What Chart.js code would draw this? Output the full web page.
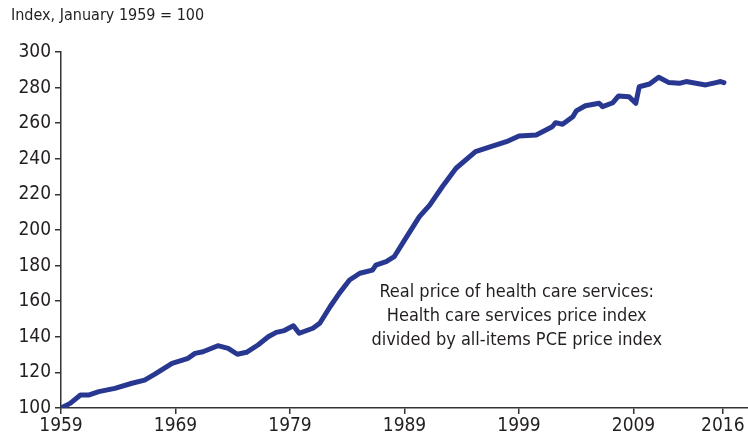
<!DOCTYPE html>
<html>
<head>
<meta charset="utf-8">
<script src="https://cdn.jsdelivr.net/npm/chart.js@4/dist/chart.umd.min.js"></script>
<style>
  html, body { margin: 0; padding: 0; background: #fff; }
  #wrap { position: relative; width: 748px; height: 441px; }
</style>
</head>
<body>
<div id="wrap"><canvas id="myChart" width="748" height="441"></canvas></div>
<script>
// data
var years = [1959.0, 1959.8, 1960.7, 1961.4, 1962.3, 1963.7, 1965.2, 1966.3, 1967.2, 1968.7,
  1970.1, 1970.7, 1971.4, 1972.7, 1973.6, 1974.4, 1975.2, 1976.2, 1977.1, 1977.8,
  1978.5, 1979.3, 1979.8, 1981.0, 1981.6, 1982.5, 1983.3, 1984.2, 1985.1, 1986.2,
  1986.5, 1987.4, 1988.1, 1989.1, 1990.3, 1991.2, 1992.3, 1993.5, 1995.2, 1996.4,
  1997.9, 1999.0, 2000.5, 2001.9, 2002.2, 2002.8, 2003.7, 2004.0, 2004.8, 2006.0,
  2006.3, 2007.2, 2007.7, 2008.6, 2009.2, 2009.5, 2010.4, 2011.2, 2012.1, 2013.0,
  2013.6, 2015.3, 2016.2, 2016.6, 2016.9];
var realPrice = [100, 102.6, 107.3, 107.3, 109.2, 111, 113.9, 115.7, 119, 125.1,
  127.9, 130.7, 131.6, 135, 133.5, 130.2, 131.3, 135.4, 140, 142.5,
  143.5, 146.2, 142, 144.8, 147.6, 156.9, 164.4, 171.9, 175.7, 177.5,
  180.3, 182.2, 185, 195.3, 207.5, 214, 224.3, 234.7, 244, 246.5,
  249.6, 252.8, 253.4, 258, 260.3, 259.4, 263.6, 266.9, 269.8, 271.2,
  269.3, 271.5, 275.3, 274.9, 271.2, 280.5, 282, 285.8, 282.8, 282.4,
  283.4, 281.5, 282.8, 283.4, 282.8];
var xTickValues = [1959, 1969, 1979, 1989, 1999, 2009, 2016.8];
var xTickLabels = ['1959', '1969', '1979', '1989', '1999', '2009', '2016'];
var yTickValues = [100, 120, 140, 160, 180, 200, 220, 240, 260, 280, 300];
var unitLabel = 'Index, January 1959 = 100';
var noteLines = ['Real price of health care services:', 'Health care services price index', 'divided by all-items PCE price index'];

var FONT = "'Liberation Sans Narrow', 'DejaVu Sans Condensed', 'Arial Narrow', sans-serif";
var axisColor = '#333333';
var textColor = '#231f20';

var points = years.map(function (y, i) { return { x: y, y: realPrice[i] }; });

var textPlugin = {
  id: 'extraText',
  afterDraw: function (chart) {
    var c = chart.ctx;
    c.save();
    c.fillStyle = textColor;
    c.font = '16px ' + FONT;
    c.textAlign = 'left';
    c.textBaseline = 'middle';
    c.fillText(unitLabel, 11, 16);
    c.font = '18px ' + FONT;
    c.textAlign = 'center';
    var cx = chart.scales.x.getPixelForValue(1998.8);
    var y0 = chart.scales.y.getPixelForValue(165);
    for (var i = 0; i < noteLines.length; i++) {
      c.fillText(noteLines[i], cx, y0 + i * 24);
    }
    c.restore();
  }
};

var ctx = document.getElementById('myChart').getContext('2d');
var chart = new Chart(ctx, {
  type: 'line',
  data: {
    datasets: [{
      data: points,
      borderColor: 'rgb(40, 56, 145)',
      borderWidth: 5,
      pointRadius: 0,
      tension: 0,
      borderCapStyle: 'round',
      borderJoinStyle: 'round',
      fill: false
    }]
  },
  options: {
    responsive: false,
    animation: false,
    layout: { padding: { top: 52, right: 0, left: 0, bottom: 0 } },
    plugins: {
      legend: { display: false },
      tooltip: { enabled: false }
    },
    scales: {
      x: {
        type: 'linear',
        min: 1959,
        max: 2019,
        afterBuildTicks: function (scale) {
          scale.ticks = xTickValues.map(function (v) { return { value: v }; });
        },
        afterFit: function (scale) { scale.height = 33; },
        ticks: {
          autoSkip: false,
          maxRotation: 0,
          padding: 1,
          color: textColor,
          font: { family: FONT, size: 19 },
          callback: function (value) {
            var i = xTickValues.indexOf(value);
            return i >= 0 ? xTickLabels[i] : '';
          }
        },
        grid: { drawOnChartArea: false, drawTicks: true, tickLength: 6, color: axisColor, lineWidth: 1.5 },
        border: { display: true, color: axisColor, width: 1.5 }
      },
      y: {
        min: 100,
        max: 300,
        afterBuildTicks: function (scale) {
          scale.ticks = yTickValues.map(function (v) { return { value: v }; });
        },
        afterFit: function (scale) { scale.width = 61; },
        ticks: {
          padding: 4,
          color: textColor,
          font: { family: FONT, size: 19 }
        },
        grid: { drawOnChartArea: false, drawTicks: true, tickLength: 6, color: axisColor, lineWidth: 1.5 },
        border: { display: true, color: axisColor, width: 1.5 }
      }
    }
  },
  plugins: [textPlugin]
});
</script>
</body>
</html>
